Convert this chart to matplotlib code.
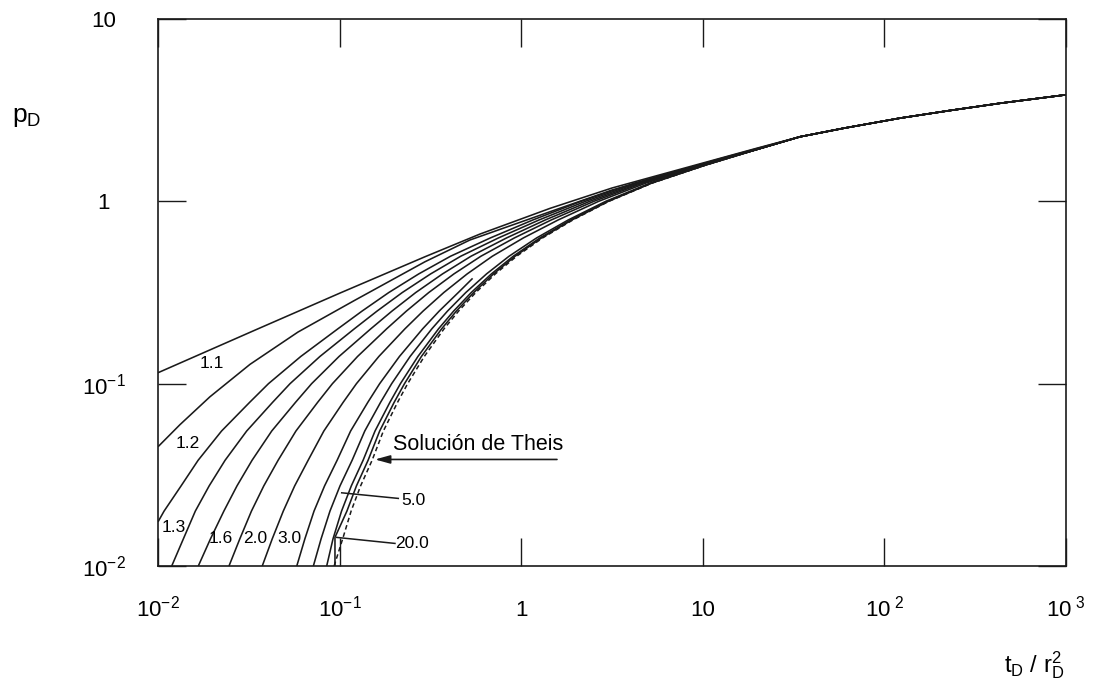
import matplotlib
matplotlib.use('Agg')
import matplotlib.pyplot as plt
from matplotlib.ticker import NullLocator

plt.rcParams['font.family'] = ['Liberation Sans', 'DejaVu Sans']
plt.rcParams['mathtext.fontset'] = 'custom'
plt.rcParams['mathtext.rm'] = 'Liberation Sans'
plt.rcParams['mathtext.it'] = 'Liberation Sans:italic'
plt.rcParams['mathtext.bf'] = 'Liberation Sans:bold'

# ---------------- data ----------------
# common late-time branch (all curves merged)
tau_tail = [34.3, 60.0, 122.0, 230.0, 433.0, 1000.0]
p_tail = [2.26, 2.52, 2.86, 3.15, 3.45, 3.84]

# point at t_D/r_D^2 = 20 shared by the curves r_D >= 1.3 and Theis
tau_join = [20.0]
p_join = [1.93]

# r_D = 1.1
tau_11 = [0.01, 0.0342, 0.1005, 0.2953, 0.5917, 1.441, 3.16, 12.4, 20.0]
p_11 = [0.1148, 0.1966, 0.314, 0.4967, 0.661, 0.915, 1.183, 1.72, 1.96]

# r_D = 1.2
tau_12 = [0.01, 0.01321, 0.0193, 0.0321, 0.0590, 0.1216, 0.2953, 0.5213, 1.441, 3.16, 12.4, 20.0]
p_12 = [0.04507, 0.05958, 0.08466, 0.1276, 0.1919, 0.2871, 0.4663, 0.6134, 0.877, 1.153, 1.71, 1.95]

# r_D = 1.3
tau_13 = [0.01, 0.0108, 0.0134, 0.01663, 0.02239, 0.03197, 0.04058, 0.06114, 0.0979,
          0.1329, 0.1865, 0.2729, 0.4083, 0.6766, 1.158, 2.136, 4.226, 9.50]
p_13 = [0.01746, 0.02, 0.0275, 0.038, 0.055, 0.079, 0.1, 0.141, 0.2,
        0.25, 0.316, 0.4, 0.5, 0.63, 0.79, 1.0, 1.26, 1.58]

# remaining curves, read on common pressure levels
p_rows = [0.01, 0.0141, 0.02, 0.0275, 0.038, 0.055, 0.079, 0.1, 0.141, 0.2,
          0.25, 0.316, 0.4, 0.5, 0.63, 0.79, 1.0, 1.26, 1.58]
tau_14 = [0.0119, 0.0138, 0.01605, 0.01913, 0.02341, 0.03079, 0.04276, 0.05335, 0.07793, 0.1206,
          0.1607, 0.2213, 0.3173, 0.4648, 0.7497, 1.253, 2.255, 4.373, 9.63]
tau_16 = [0.01667, 0.01946, 0.02305, 0.02722, 0.03296, 0.04229, 0.05719, 0.07014, 0.09932, 0.1486,
          0.1942, 0.2625, 0.3689, 0.5294, 0.8309, 1.355, 2.382, 4.527, 9.76]
tau_20 = [0.0246, 0.02823, 0.0327, 0.03824, 0.04585, 0.05749, 0.0757, 0.0913, 0.1256, 0.1817,
          0.2332, 0.3096, 0.4263, 0.6001, 0.9175, 1.462, 2.512, 4.676, 9.89]
tau_30 = [0.0375, 0.04258, 0.04896, 0.05657, 0.0671, 0.0819, 0.1046, 0.1238, 0.1645, 0.2291,
          0.2881, 0.3747, 0.5042, 0.6936, 1.028, 1.596, 2.669, 4.862, 10.04]
tau_50 = [0.0717, 0.0791, 0.0885, 0.1005, 0.1172, 0.1376, 0.1681, 0.1935, 0.2445, 0.3222,
          0.3927, 0.4952, 0.6445, 0.8574, 1.216, 1.814, 2.92, 5.137, 10.27]
tau_100 = [0.0849, 0.0920, 0.1025, 0.116, 0.1347, 0.1567, 0.1892, 0.2162, 0.27, 0.3507,
           0.4244, 0.5307, 0.6855, 0.9042, 1.268, 1.872, 2.986, 5.21, 10.32]

# unlabeled curve between 3.0 and 5.0 (drawn only up to p_D ~ 0.38)
tau_40 = [0.0581, 0.0644, 0.0723, 0.08265, 0.0969, 0.1150, 0.143, 0.1662, 0.2136, 0.2868,
          0.3534, 0.4503, 0.54]
p_40 = [0.01, 0.0141, 0.02, 0.0275, 0.038, 0.055, 0.079, 0.1, 0.141, 0.2,
        0.25, 0.316, 0.378]

# r_D = 20.0 (with its short vertical start)
tau_200 = [0.0943, 0.0943, 0.1097, 0.1238, 0.1435, 0.1662, 0.1997, 0.2277, 0.2822, 0.3647,
           0.4393, 0.5478, 0.7043, 0.9255, 1.293, 1.9, 3.016, 5.24, 10.35]
p_200 = [0.01, 0.01436, 0.02, 0.0275, 0.038, 0.055, 0.079, 0.1, 0.141, 0.2,
         0.25, 0.316, 0.4, 0.5, 0.63, 0.79, 1.0, 1.26, 1.58]

# Theis solution (dashed)
tau_theis = [0.0933, 0.1040, 0.1157, 0.1305, 0.151, 0.1742, 0.2085, 0.237, 0.2927, 0.376,
             0.452, 0.562, 0.7205, 0.944, 1.312, 1.923, 3.04, 5.27, 10.37]

x_ticks = [0.01, 0.1, 1, 10, 100, 1000]
x_ticklabels = [r'$\mathregular{10^{-2}}$', r'$\mathregular{10^{-1}}$', '1', '10',
                r'$\mathregular{10^{\ 2}}$', r'$\mathregular{10^{\ 3}}$']
y_ticks = [0.01, 0.1, 1, 10]
y_ticklabels = [r'$\mathregular{10^{-2}}$', r'$\mathregular{10^{-1}}$', '1', '10']

# ---------------- figure ----------------
W, H = 1106, 685
fig = plt.figure(figsize=(W / 100, H / 100), dpi=100)
ax = fig.add_axes([158 / W, 1 - 566 / H, 908 / W, 547 / H])
ax.set_xscale('log')
ax.set_yscale('log')
ax.set_xlim(0.01, 1000)
ax.set_ylim(0.01, 10)

lc = '#1a1a1a'
lw = 1.15

# curves r_D = 1.1, 1.2 carry their own point at 20
for t, p in [(tau_11, p_11), (tau_12, p_12)]:
    ax.plot(list(t) + tau_tail, list(p) + p_tail, color=lc, lw=lw, solid_capstyle='butt')

joined = [
    (tau_13, p_13),
    (tau_14, p_rows),
    (tau_16, p_rows),
    (tau_20, p_rows),
    (tau_30, p_rows),
    (tau_50, p_rows),
    (tau_100, p_rows),
    (tau_200, p_200),
]
for t, p in joined:
    ax.plot(list(t) + tau_join + tau_tail, list(p) + p_join + p_tail,
            color=lc, lw=lw, solid_capstyle='butt')

ax.plot(tau_40, p_40, color=lc, lw=lw, solid_capstyle='butt')
ax.plot(tau_theis + tau_join + tau_tail, p_rows + p_join + p_tail,
        color=lc, lw=1.1, ls=(0, (3, 2)))

# ticks
ax.set_xticks(x_ticks)
ax.set_xticklabels(x_ticklabels)
ax.set_yticks(y_ticks)
ax.set_yticklabels(y_ticklabels)
ax.xaxis.set_minor_locator(NullLocator())
ax.yaxis.set_minor_locator(NullLocator())
ax.tick_params(which='major', direction='in', length=20, width=1.0, color=lc,
               top=True, right=True, labelsize=16, colors='black')
ax.tick_params(axis='x', pad=36)
ax.tick_params(axis='y', pad=39)
for lab in ax.get_xticklabels():
    lab.set_verticalalignment('baseline')
for lab in ax.get_yticklabels():
    lab.set_horizontalalignment('center')
for s in ax.spines.values():
    s.set_linewidth(1.2)
    s.set_color(lc)

# axis titles
fig.text(12 / W, 1 - 117 / H, r'$\mathregular{p_D}$', fontsize=19, ha='left', va='center')
fig.text(1034 / W, 1 - 665 / H, r'$\mathregular{t_D\ /\ r_D^2}$', fontsize=17, ha='center', va='center')

# curve labels
fs = 12.5
ax.text(0.01983, 0.1297, '1.1', fontsize=fs, ha='center', va='center')
ax.text(0.01454, 0.0472, '1.2', fontsize=fs, ha='center', va='center')
ax.text(0.01225, 0.01634, '1.3', fontsize=fs, ha='center', va='center')
ax.text(0.02223, 0.01422, '1.6', fontsize=fs, ha='center', va='center')
ax.text(0.03442, 0.01422, '2.0', fontsize=fs, ha='center', va='center')
ax.text(0.05264, 0.01422, '3.0', fontsize=fs, ha='center', va='center')
ax.text(0.2536, 0.02298, '5.0', fontsize=fs, ha='center', va='center')
ax.text(0.2504, 0.01335, '20.0', fontsize=fs, ha='center', va='center')
ax.plot([0.1027, 0.2105], [0.0252, 0.02348], color=lc, lw=1.1)
ax.plot([0.0964, 0.2018], [0.01435, 0.0133], color=lc, lw=1.1)

# Theis annotation
ax.text(0.1968, 0.0466, 'Solución de Theis', fontsize=15.5, ha='left', va='center')
ax.annotate('', xy=(0.1567, 0.0384), xytext=(1.574, 0.0384),
            arrowprops=dict(arrowstyle='-|>,head_length=0.9,head_width=0.25',
                            color=lc, lw=1.2, shrinkA=0, shrinkB=0))

fig.savefig('out.png', dpi=100)
